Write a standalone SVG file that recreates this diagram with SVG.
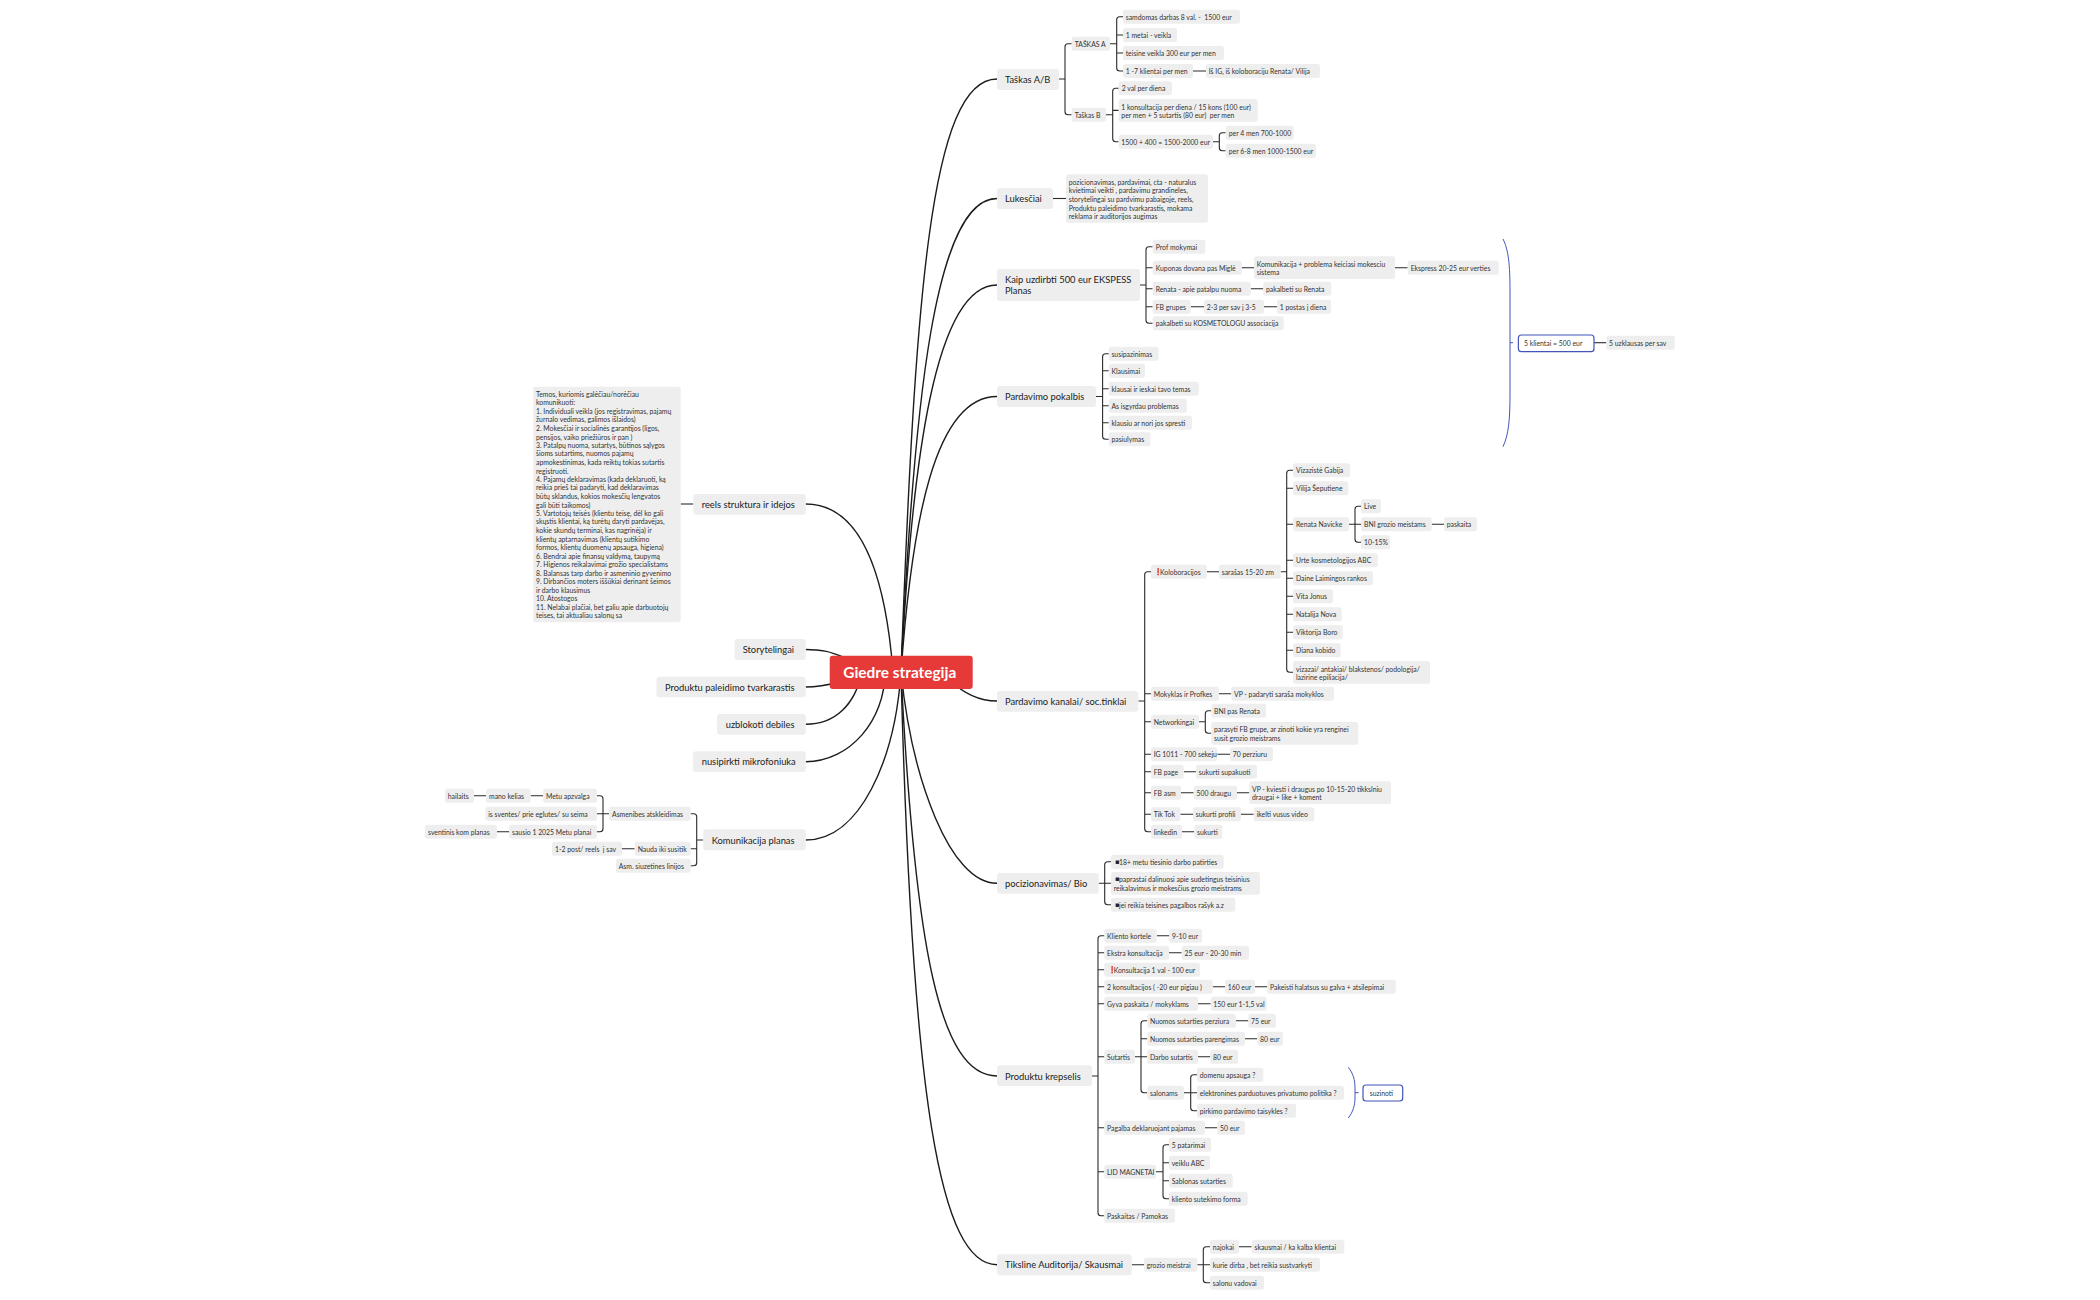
<svg xmlns="http://www.w3.org/2000/svg" width="2100" height="1300" viewBox="0 0 2100 1300">
<style>
text{font-family:"Lato","Noto Sans",sans-serif;dominant-baseline:central;white-space:pre;fill:#333}
.n rect{fill:#eee;rx:2.5px}
.n text{font-size:6.85px}
.m rect{fill:#eee;rx:3px}
.m text{font-size:9.35px;fill:#1c1c1c}
.r rect{fill:#e63a38;rx:3px}
.r text{font-size:15.4px;font-weight:700;fill:#fff}
.s rect{fill:#fff;stroke:#4355b9;stroke-width:1.2;rx:3px}
.s text{font-size:6.85px}
.n .ex{fill:#e3222a;font-family:"DejaVu Sans",sans-serif;font-size:6.6px;stroke:#e3222a;stroke-width:.3}
.sq{fill:#222;font-family:"DejaVu Sans",sans-serif}
#connectors path{fill:none;stroke:#2a2a2a;stroke-width:1.1}
#connectors .c{stroke:#1c1c1c;stroke-width:1.4}
#connectors .b{stroke:#4355b9;stroke-width:1}
</style>
<rect width="2100" height="1300" fill="#fff"/>
<g id="connectors">
<path class="c" d="M901 672C915 300 930 79 997 79"/>
<path class="c" d="M901 672C914 400 935 198.500 997 198.500"/>
<path class="c" d="M901 672C912 460 935 285 997 285"/>
<path class="c" d="M901 672C912 520 935 396.500 997 396.500"/>
<path class="c" d="M950 680C965 695 980 701 997 701"/>
<path class="c" d="M901 672C912 780 950 883.300 997 883.300"/>
<path class="c" d="M901 672C915 950 940 1076 997 1076"/>
<path class="c" d="M901 672C912 1100 940 1264.700 997 1264.700"/>
<path class="c" d="M893 672C885 570 860 504 805.700 504"/>
<path class="c" d="M845 658C830 651 820 649.500 805.700 649.500"/>
<path class="c" d="M840 682Q820 687 805.700 687"/>
<path class="c" d="M862 672C855 705 835 724.300 805.700 724.300"/>
<path class="c" d="M885 672C885 720 850 761.700 805.700 761.700"/>
<path class="c" d="M901 672C895 760 860 840 805.700 840"/>
<path d="M1059 79H1065M1071.700 43.700H1068Q1065 43.700 1065 46.700V111.700Q1065 114.700 1068 114.700H1071.700"/>
<path d="M1110 43.700H1116.700M1123 16.700H1119.700Q1116.700 16.700 1116.700 19.700V68Q1116.700 71 1119.700 71H1123M1116.700 35H1123M1116.700 53H1123M1193 71H1206"/>
<path d="M1106 114.700H1112.700M1118.700 88.300H1115.700Q1112.700 88.300 1112.700 91.300V138.700Q1112.700 141.700 1115.700 141.700H1118.700M1112.700 110.400H1118.700"/>
<path d="M1213 141.700H1219.300M1225.700 132.700H1222.300Q1219.300 132.700 1219.300 135.700V147.700Q1219.300 150.700 1222.300 150.700H1225.700"/>
<path d="M1053 198.500H1066"/>
<path d="M1140 285H1146M1152.700 246.700H1149Q1146 246.700 1146 249.700V320.300Q1146 323.300 1149 323.300H1152.700M1146 267.700H1152.700M1146 288.700H1152.700M1146 306.700H1152.700M1241.700 267.700H1254M1395 267.700H1407.700M1250.700 288.700H1263.300M1190.700 306.700H1204M1264 306.700H1277"/>
<path d="M1095.900 396.500H1102.600M1108.800 353.700H1105.600Q1102.600 353.700 1102.600 356.700V436.300Q1102.600 439.300 1105.600 439.300H1108.800M1102.600 370.700H1108.800M1102.600 388.700H1108.800M1102.600 405.700H1108.800M1102.600 422.700H1108.800"/>
<path d="M1138.300 701H1144.700M1151 571.700H1147.700Q1144.700 571.700 1144.700 574.700V828.700Q1144.700 831.700 1147.700 831.700H1151M1144.700 693.700H1151M1144.700 721.700H1151M1144.700 754.300H1151M1144.700 771.700H1151M1144.700 792.700H1151M1144.700 814.300H1151"/>
<path d="M1206.700 571.700H1219M1280.700 571.700H1286.700M1293 470.300H1289.700Q1286.700 470.300 1286.700 473.300V669.300Q1286.700 672.300 1289.700 672.300H1293M1286.700 488.300H1293M1286.700 524.300H1293M1286.700 560.300H1293M1286.700 578.300H1293M1286.700 596.300H1293M1286.700 614.300H1293M1286.700 632.300H1293M1286.700 650.300H1293"/>
<path d="M1349 524.300H1361M1361 506.300H1358Q1355 506.300 1355 509.300V539.300Q1355 542.300 1358 542.300H1361M1431.700 524.300H1444"/>
<path d="M1219 693.700H1231.300M1199 721.700H1205.300M1211.300 710.700H1208.300Q1205.300 710.700 1205.300 713.700V730.300Q1205.300 733.300 1208.300 733.300H1211.300M1217.300 754.300H1230M1183.700 771.700H1196M1181 792.700H1193.700M1237 792.700H1249.300M1180.300 814.300H1193M1241 814.300H1253.700M1182 831.700H1194.300"/>
<path d="M1098.700 883.300H1111M1111 861.700H1107.700Q1104.700 861.700 1104.700 864.700V901.700Q1104.700 904.700 1107.700 904.700H1111"/>
<path d="M1092 1076H1098M1104.300 935.700H1101Q1098 935.700 1098 938.700V1212.700Q1098 1215.700 1101 1215.700H1104.300M1098 952.700H1104.300M1098 969.700H1104.300M1098 986.700H1104.300M1098 1003.700H1104.300M1098 1056.700H1104.300M1098 1127.700H1104.300M1098 1171.700H1104.300"/>
<path d="M1156.700 935.700H1169.300M1169 952.700H1181.700M1212.700 986.700H1225M1255 986.700H1267.300M1198 1003.700H1210.700M1236 1020.700H1248.300M1245 1038.700H1257.300M1198 1056.700H1210.300M1205 1127.700H1217.300"/>
<path d="M1135 1056.700H1147.300M1147.300 1020.700H1144Q1141 1020.700 1141 1023.700V1089.700Q1141 1092.700 1144 1092.700H1147.300M1141 1038.700H1147.300"/>
<path d="M1184 1092.700H1197M1197 1074.700H1193.700Q1190.700 1074.700 1190.700 1077.700V1107.700Q1190.700 1110.700 1193.700 1110.700H1197"/>
<path d="M1156 1171.700H1163M1169 1144.700H1166Q1163 1144.700 1163 1147.700V1195.700Q1163 1198.700 1166 1198.700H1169M1163 1162.700H1169M1163 1180.700H1169"/>
<path d="M1131.700 1264.700H1144M1197.300 1264.700H1210M1210 1246.700H1206.300Q1203.300 1246.700 1203.300 1249.700V1279.700Q1203.300 1282.700 1206.300 1282.700H1210M1239 1246.700H1251.700"/>
<path d="M693.300 504H680.700"/>
<path d="M703.200 840H696.700M690.600 813.700H693.700Q696.700 813.700 696.700 816.700V862.700Q696.700 865.700 693.700 865.700H690.600M696.700 848.700H690.600"/>
<path d="M609 813.700H596.800M596.800 795.700H600Q603 795.700 603 798.700V828.700Q603 831.700 600 831.700H596.800M543.200 795.700H530.600M486.200 795.700H474M509.200 831.700H497M634.700 848.700H622"/>
<path class="b" d="M1503 239C1508.500 250 1510 265 1510 290V395C1510 420 1508.500 435 1503 446.700M1510 342.700H1513"/>
<path d="M1594 342.700H1606.400"/>
<path class="b" d="M1348.300 1067.300C1353 1073 1355 1080 1355 1088V1098C1355 1105 1353 1112 1348.300 1118M1355 1092.700H1358.700"/>
</g>
<g id="root" class="r"><rect x="829.700" y="655.700" width="143" height="33.300"/><text x="843.300" y="672">Giedre strategija</text></g>
<g id="t1" class="m"><rect x="997" y="69" width="62" height="21"/><text x="1005" y="79">Taškas A/B</text></g>
<g id="t2" class="m"><rect x="997" y="188" width="56" height="21"/><text x="1005" y="198.500">Lukesčiai</text></g>
<g id="t3" class="m"><rect x="997" y="269" width="143" height="32"/><text x="1005"><tspan x="1005" y="279">Kaip uzdirbti 500 eur EKSPESS</tspan><tspan x="1005" y="290">Planas</tspan></text></g>
<g id="t4" class="m"><rect x="997" y="386" width="99" height="21"/><text x="1005" y="396.500">Pardavimo pokalbis</text></g>
<g id="t5" class="m"><rect x="997" y="691" width="141.300" height="20.700"/><text x="1005" y="701">Pardavimo kanalai/ soc.tinklai</text></g>
<g id="t6" class="m"><rect x="997" y="873" width="101.700" height="20.700"/><text x="1005" y="883.300">pocizionavimas/ Bio</text></g>
<g id="t7" class="m"><rect x="997" y="1065.300" width="95" height="20.700"/><text x="1005" y="1076">Produktu krepselis</text></g>
<g id="t8" class="m"><rect x="997" y="1254.300" width="134.700" height="21"/><text x="1005" y="1264.700">Tiksline Auditorija/ Skausmai</text></g>
<g id="t9" class="m"><rect x="693.300" y="494" width="112.400" height="20.700"/><text x="701.700" y="504">reels struktura ir idejos</text></g>
<g id="t10" class="m"><rect x="734.600" y="639" width="71.100" height="21"/><text x="742.700" y="649.500">Storytelingai</text></g>
<g id="t11" class="m"><rect x="656.500" y="676.700" width="149.200" height="20.600"/><text x="665" y="687">Produktu paleidimo tvarkarastis</text></g>
<g id="t12" class="m"><rect x="717" y="714" width="88.700" height="20.700"/><text x="725.700" y="724.300">uzblokoti debiles</text></g>
<g id="t13" class="m"><rect x="692.900" y="751.300" width="112.800" height="20.700"/><text x="701.700" y="761.700">nusipirkti mikrofoniuka</text></g>
<g id="t14" class="m"><rect x="703.200" y="829.300" width="102.500" height="21"/><text x="711.700" y="840">Komunikacija planas</text></g>
<g id="a1" class="n"><rect x="1071.700" y="36.700" width="38.300" height="14"/><text x="1074.700" y="43.700">TAŠKAS A</text></g>
<g id="a2" class="n"><rect x="1123" y="9.700" width="117" height="14"/><text x="1125.700" y="16.700">samdomas darbas 8 val. -  1500 eur</text></g>
<g id="a3" class="n"><rect x="1123" y="28" width="54" height="14"/><text x="1125.700" y="35">1 metai - veikla</text></g>
<g id="a4" class="n"><rect x="1123" y="46" width="101" height="14"/><text x="1125.700" y="53">teisine veikla 300 eur per men</text></g>
<g id="a5" class="n"><rect x="1123" y="64" width="70" height="14"/><text x="1125.700" y="71">1 -7 klientai per men</text></g>
<g id="a6" class="n"><rect x="1206" y="64" width="114" height="14"/><text x="1208.700" y="71">Iš IG, iš koloboraciju Renata/ Vilija</text></g>
<g id="b1" class="n"><rect x="1071.700" y="107.700" width="34.300" height="14"/><text x="1074.700" y="114.700">Taškas B</text></g>
<g id="b2" class="n"><rect x="1118.700" y="81.300" width="53.300" height="14"/><text x="1121.700" y="88.300">2 val per diena</text></g>
<g id="b3" class="n"><rect x="1118.700" y="99" width="139" height="22.700"/><text><tspan x="1121.300" y="106.500">1 konsultacija per diena / 15 kons (100 eur)</tspan><tspan x="1121.300" y="114.700">per men + 5 sutartis (80 eur)  per men</tspan></text></g>
<g id="b4" class="n"><rect x="1118.700" y="134.700" width="94.300" height="14"/><text x="1121.300" y="141.700">1500 + 400 = 1500-2000 eur</text></g>
<g id="b5" class="n"><rect x="1225.700" y="125.700" width="68" height="14"/><text x="1228.700" y="132.700">per 4 men 700-1000</text></g>
<g id="b6" class="n"><rect x="1225.700" y="143.700" width="90.300" height="14"/><text x="1228.700" y="150.700">per 6-8 men 1000-1500 eur</text></g>
<g id="c1" class="n"><rect x="1066" y="174.300" width="142" height="48.400"/><text><tspan x="1068.700" y="181.700">pozicionavimas, pardavimai, cta - naturalus</tspan><tspan x="1068.700" y="190">kvietimai veikti , pardavimu grandineles,</tspan><tspan x="1068.700" y="198.700">storytelingai su pardvimu pabaigoje, reels,</tspan><tspan x="1068.700" y="207.700">Produktu paleidimo tvarkarastis, mokama</tspan><tspan x="1068.700" y="215.700">reklama ir auditorijos augimas</tspan></text></g>
<g id="d1" class="n"><rect x="1152.700" y="239.700" width="52.600" height="14"/><text x="1155.700" y="246.700">Prof mokymai</text></g>
<g id="d2" class="n"><rect x="1152.700" y="260.700" width="89" height="14"/><text x="1155.700" y="267.700">Kuponas dovana pas Miglė</text></g>
<g id="d3" class="n"><rect x="1254" y="256.300" width="141" height="22.700"/><text><tspan x="1256.700" y="263.700">Komunikacija + problema keiciasi mokesciu</tspan><tspan x="1256.700" y="271.700">sistema</tspan></text></g>
<g id="d4" class="n"><rect x="1407.700" y="260.700" width="91" height="14"/><text x="1410.700" y="267.700">Ekspress 20-25 eur verties</text></g>
<g id="d5" class="n"><rect x="1152.700" y="281.700" width="98" height="14"/><text x="1155.700" y="288.700">Renata - apie patalpu nuoma</text></g>
<g id="d6" class="n"><rect x="1263.300" y="281.700" width="68" height="14"/><text x="1266" y="288.700">pakalbeti su Renata</text></g>
<g id="d7" class="n"><rect x="1152.700" y="299.700" width="38" height="14"/><text x="1155.700" y="306.700">FB grupes</text></g>
<g id="d8" class="n"><rect x="1204" y="299.700" width="60" height="14"/><text x="1206.700" y="306.700">2-3 per sav į 3-5</text></g>
<g id="d9" class="n"><rect x="1277" y="299.700" width="54" height="14"/><text x="1279.700" y="306.700">1 postas į diena</text></g>
<g id="d10" class="n"><rect x="1152.700" y="316.300" width="131" height="14"/><text x="1155.700" y="323.300">pakalbeti su KOSMETOLOGU associacija</text></g>
<g id="e1" class="s"><rect x="1518.400" y="335" width="75.600" height="16.700"/><text x="1524" y="342.700">5 klientai = 500 eur</text></g>
<g id="e2" class="n"><rect x="1606.400" y="335.700" width="68.400" height="14"/><text x="1609" y="342.700">5 uzklausas per sav</text></g>
<g id="f1" class="n"><rect x="1108.800" y="346.700" width="49.800" height="14"/><text x="1111.400" y="353.700">susipazinimas</text></g>
<g id="f2" class="n"><rect x="1108.800" y="363.700" width="36.200" height="14"/><text x="1111.400" y="370.700">Klausimai</text></g>
<g id="f3" class="n"><rect x="1108.800" y="381.700" width="90" height="14"/><text x="1111.400" y="388.700">klausai ir ieskai tavo temas</text></g>
<g id="f4" class="n"><rect x="1108.800" y="398.700" width="78" height="14"/><text x="1111.400" y="405.700">As isgyrdau problemas</text></g>
<g id="f5" class="n"><rect x="1108.800" y="415.700" width="83.200" height="14"/><text x="1111.400" y="422.700">klausiu ar nori jos spresti</text></g>
<g id="f6" class="n"><rect x="1108.800" y="432.300" width="41.600" height="14"/><text x="1111.400" y="439.300">pasiulymas</text></g>
<g id="g1" class="n"><rect x="1151" y="564.700" width="55.700" height="14"/><text y="571.700"><tspan class="ex" x="1154">❗</tspan><tspan x="1160">Koloboracijos</tspan></text></g>
<g id="g2" class="n"><rect x="1219" y="564.700" width="61.700" height="14"/><text x="1221.700" y="571.700">sarašas 15-20 zm</text></g>
<g id="g3" class="n"><rect x="1293" y="463.300" width="57" height="14"/><text x="1296" y="470.300">Vizazistė Gabija</text></g>
<g id="g4" class="n"><rect x="1293" y="481.300" width="55.300" height="14"/><text x="1296" y="488.300">Vilija Šeputiene</text></g>
<g id="g5" class="n"><rect x="1293" y="517.300" width="56" height="14"/><text x="1296" y="524.300">Renata Navicke</text></g>
<g id="g6" class="n"><rect x="1361" y="499.300" width="20" height="14"/><text x="1364" y="506.300">Live</text></g>
<g id="g7" class="n"><rect x="1361" y="517.300" width="70.700" height="14"/><text x="1364" y="524.300">BNI grozio meistams</text></g>
<g id="g8" class="n"><rect x="1444" y="517.300" width="33" height="14"/><text x="1446.700" y="524.300">paskaita</text></g>
<g id="g9" class="n"><rect x="1361" y="535.300" width="29" height="14"/><text x="1364" y="542.300">10-15%</text></g>
<g id="g10" class="n"><rect x="1293" y="553.300" width="84.700" height="14"/><text x="1296" y="560.300">Urte kosmetologijos ABC</text></g>
<g id="g11" class="n"><rect x="1293" y="571.300" width="80" height="14"/><text x="1296" y="578.300">Daine Laimingos rankos</text></g>
<g id="g12" class="n"><rect x="1293" y="589.300" width="40" height="14"/><text x="1296" y="596.300">Vita Jonus</text></g>
<g id="g13" class="n"><rect x="1293" y="607.300" width="48.700" height="14"/><text x="1296" y="614.300">Natalija Nova</text></g>
<g id="g14" class="n"><rect x="1293" y="625.300" width="49.700" height="14"/><text x="1296" y="632.300">Viktorija Boro</text></g>
<g id="g15" class="n"><rect x="1293" y="643.300" width="47.700" height="14"/><text x="1296" y="650.300">Diana kobido</text></g>
<g id="g16" class="n"><rect x="1293" y="661" width="137" height="22.700"/><text><tspan x="1296" y="669">vizazai/ antakiai/ blakstenos/ podologija/</tspan><tspan x="1296" y="676.700">lazirine epiliacija/</tspan></text></g>
<g id="h1" class="n"><rect x="1151" y="686.700" width="68" height="14"/><text x="1153.700" y="693.700">Mokyklas ir Profkes</text></g>
<g id="h2" class="n"><rect x="1231.300" y="686.700" width="102.700" height="14"/><text x="1234" y="693.700">VP - padaryti saraša mokyklos</text></g>
<g id="h3" class="n"><rect x="1151" y="714.700" width="48" height="14"/><text x="1153.700" y="721.700">Networkingai</text></g>
<g id="h4" class="n"><rect x="1211.300" y="703.700" width="54.700" height="14"/><text x="1214" y="710.700">BNI pas Renata</text></g>
<g id="h5" class="n"><rect x="1211.300" y="722" width="147" height="22.700"/><text><tspan x="1214" y="728.700">parasyti FB grupe, ar zinoti kokie yra renginei</tspan><tspan x="1214" y="737.700">susit grozio meistrams</tspan></text></g>
<g id="h6" class="n"><rect x="1151" y="747.300" width="66.300" height="14"/><text x="1153.700" y="754.300">IG 1011 - 700 sekeju</text></g>
<g id="h7" class="n"><rect x="1230" y="747.300" width="43" height="14"/><text x="1232.700" y="754.300">70 perziuru</text></g>
<g id="h8" class="n"><rect x="1151" y="764.700" width="32.700" height="14"/><text x="1153.700" y="771.700">FB page</text></g>
<g id="h9" class="n"><rect x="1196" y="764.700" width="61" height="14"/><text x="1198.700" y="771.700">sukurti supakuoti</text></g>
<g id="h10" class="n"><rect x="1151" y="785.700" width="30" height="14"/><text x="1153.700" y="792.700">FB asm</text></g>
<g id="h11" class="n"><rect x="1193.700" y="785.700" width="43.300" height="14"/><text x="1196.500" y="792.700">500 draugu</text></g>
<g id="h12" class="n"><rect x="1249.300" y="781.300" width="141.700" height="22.700"/><text><tspan x="1252" y="788.700">VP - kviesti i draugus po 10-15-20 tikkslniu</tspan><tspan x="1252" y="797.300">draugai + like + koment</tspan></text></g>
<g id="h13" class="n"><rect x="1151" y="807.300" width="29.300" height="14"/><text x="1153.700" y="814.300">Tik Tok</text></g>
<g id="h14" class="n"><rect x="1193" y="807.300" width="48" height="14"/><text x="1195.700" y="814.300">sukurti profili</text></g>
<g id="h15" class="n"><rect x="1253.700" y="807.300" width="60.600" height="14"/><text x="1256.700" y="814.300">ikelti vusus video</text></g>
<g id="h16" class="n"><rect x="1151" y="824.700" width="31" height="14"/><text x="1153.700" y="831.700">linkedin</text></g>
<g id="h17" class="n"><rect x="1194.300" y="824.700" width="28" height="14"/><text x="1197" y="831.700">sukurti</text></g>
<g id="i1" class="n"><rect x="1111" y="854.700" width="112.700" height="14"/><text y="861.700"><tspan class="sq" x="1115">▪</tspan><tspan x="1119">18+ metu tiesinio darbo patirties</tspan></text></g>
<g id="i2" class="n"><rect x="1111" y="872" width="149" height="22.700"/><text><tspan class="sq" x="1115" y="878.700">▪</tspan><tspan x="1119" y="878.700">paprastai dalinuosi apie sudetingus teisinius</tspan><tspan x="1113.700" y="887.700">reikalavimus ir mokesčius grozio meistrams</tspan></text></g>
<g id="i3" class="n"><rect x="1111" y="897.700" width="124.300" height="14"/><text y="904.700"><tspan class="sq" x="1115">▪</tspan><tspan x="1119">jei reikia teisines pagalbos rašyk a.z</tspan></text></g>
<g id="j1" class="n"><rect x="1104.300" y="928.700" width="52.400" height="14"/><text x="1107" y="935.700">Kliento kortele</text></g>
<g id="j2" class="n"><rect x="1169.300" y="928.700" width="32.700" height="14"/><text x="1172" y="935.700">9-10 eur</text></g>
<g id="j3" class="n"><rect x="1104.300" y="945.700" width="64.700" height="14"/><text x="1107" y="952.700">Ekstra konsultacija</text></g>
<g id="j4" class="n"><rect x="1181.700" y="945.700" width="67.300" height="14"/><text x="1184.500" y="952.700">25 eur - 20-30 min</text></g>
<g id="j5" class="n"><rect x="1104.300" y="962.700" width="95.700" height="14"/><text y="969.700"><tspan class="ex" x="1107.700">❗</tspan><tspan x="1113.700">Konsultacija 1 val - 100 eur</tspan></text></g>
<g id="j6" class="n"><rect x="1104.300" y="979.700" width="108.400" height="14"/><text x="1107" y="986.700">2 konsultacijos ( -20 eur pigiau )</text></g>
<g id="j7" class="n"><rect x="1225" y="979.700" width="30" height="14"/><text x="1227.700" y="986.700">160 eur</text></g>
<g id="j8" class="n"><rect x="1267.300" y="979.700" width="128.400" height="14"/><text x="1270" y="986.700">Pakeisti halatsus su galva + atsilepimai</text></g>
<g id="j9" class="n"><rect x="1104.300" y="996.700" width="93.700" height="14"/><text x="1107" y="1003.700">Gyva paskaita / mokyklams</text></g>
<g id="j10" class="n"><rect x="1210.700" y="996.700" width="56" height="14"/><text x="1213.300" y="1003.700">150 eur 1-1,5 val</text></g>
<g id="j11" class="n"><rect x="1104.300" y="1049.700" width="30.700" height="14"/><text x="1107" y="1056.700">Sutartis</text></g>
<g id="j12" class="n"><rect x="1147.300" y="1013.700" width="88.700" height="14"/><text x="1150" y="1020.700">Nuomos sutarties perziura</text></g>
<g id="j13" class="n"><rect x="1248.300" y="1013.700" width="27.700" height="14"/><text x="1251" y="1020.700">75 eur</text></g>
<g id="j14" class="n"><rect x="1147.300" y="1031.700" width="97.700" height="14"/><text x="1150" y="1038.700">Nuomos sutarties parengimas</text></g>
<g id="j15" class="n"><rect x="1257.300" y="1031.700" width="25.700" height="14"/><text x="1260" y="1038.700">80 eur</text></g>
<g id="j16" class="n"><rect x="1147.300" y="1049.700" width="50.700" height="14"/><text x="1150" y="1056.700">Darbo sutartis</text></g>
<g id="j17" class="n"><rect x="1210.300" y="1049.700" width="27.700" height="14"/><text x="1213" y="1056.700">80 eur</text></g>
<g id="j18" class="n"><rect x="1147.300" y="1085.700" width="36.700" height="14"/><text x="1150" y="1092.700">salonams</text></g>
<g id="j19" class="n"><rect x="1197" y="1067.700" width="66.300" height="14"/><text x="1199.700" y="1074.700">domenu apsauga ?</text></g>
<g id="j20" class="n"><rect x="1197" y="1085.700" width="147" height="14"/><text x="1199.700" y="1092.700">elektronines parduotuves privatumo politika ?</text></g>
<g id="j21" class="n"><rect x="1197" y="1103.700" width="99" height="14"/><text x="1199.700" y="1110.700">pirkimo pardavimo taisykles ?</text></g>
<g id="j22" class="s"><rect x="1363" y="1085" width="39.700" height="16"/><text x="1369.700" y="1092.700">suzinoti</text></g>
<g id="j23" class="n"><rect x="1104.300" y="1120.700" width="100.700" height="14"/><text x="1107" y="1127.700">Pagalba deklaruojant pajamas</text></g>
<g id="j24" class="n"><rect x="1217.300" y="1120.700" width="27.700" height="14"/><text x="1220" y="1127.700">50 eur</text></g>
<g id="j25" class="n"><rect x="1104.300" y="1164.700" width="51.700" height="14"/><text x="1107" y="1171.700">LID MAGNETAI</text></g>
<g id="j26" class="n"><rect x="1169" y="1137.700" width="42" height="14"/><text x="1171.700" y="1144.700">5 patarimai</text></g>
<g id="j27" class="n"><rect x="1169" y="1155.700" width="41" height="14"/><text x="1171.700" y="1162.700">veiklu ABC</text></g>
<g id="j28" class="n"><rect x="1169" y="1173.700" width="63.700" height="14"/><text x="1171.700" y="1180.700">Sablonas sutarties</text></g>
<g id="j29" class="n"><rect x="1169" y="1191.700" width="78.700" height="14"/><text x="1171.700" y="1198.700">kliento sutekimo forma</text></g>
<g id="j30" class="n"><rect x="1104.300" y="1208.700" width="70.700" height="14"/><text x="1107" y="1215.700">Paskaitas / Pamokas</text></g>
<g id="k1" class="n"><rect x="1144" y="1257.700" width="53.300" height="14"/><text x="1146.700" y="1264.700">grozio meistrai</text></g>
<g id="k2" class="n"><rect x="1210" y="1239.700" width="29" height="14"/><text x="1212.700" y="1246.700">najokai</text></g>
<g id="k3" class="n"><rect x="1251.700" y="1239.700" width="92.600" height="14"/><text x="1254.500" y="1246.700">skausmai / ka kalba klientai</text></g>
<g id="k4" class="n"><rect x="1210" y="1257.700" width="110" height="14"/><text x="1212.700" y="1264.700">kurie dirba , bet reikia sustvarkyti</text></g>
<g id="k5" class="n"><rect x="1210" y="1275.700" width="54" height="14"/><text x="1212.700" y="1282.700">salonu vadovai</text></g>
<g id="l1" class="n"><rect x="533.300" y="386.700" width="147.400" height="235.600"/><text><tspan x="536" y="393.700">Temos, kuriomis galėčiau/norėčiau</tspan><tspan x="536" y="402">komunikuoti:</tspan><tspan x="536" y="410.700">1. Individuali veikla (jos registravimas, pajamų</tspan><tspan x="536" y="419.300">žurnalo vedimas, galimos išlaidos)</tspan><tspan x="536" y="428">2. Mokesčiai ir socialinės garantijos (ligos,</tspan><tspan x="536" y="436.700">pensijos, vaiko priežiūros ir pan )</tspan><tspan x="536" y="444.700">3. Patalpų nuoma, sutartys, būtinos sąlygos</tspan><tspan x="536" y="453.300">šioms sutartims, nuomos pajamų</tspan><tspan x="536" y="462">apmokestinimas, kada reiktų tokias sutartis</tspan><tspan x="536" y="470.700">registruoti.</tspan><tspan x="536" y="478.700">4. Pajamų deklaravimas (kada deklaruoti, ką</tspan><tspan x="536" y="487.300">reikia prieš tai padaryti, kad deklaravimas</tspan><tspan x="536" y="496">būtų sklandus, kokios mokesčių lengvatos</tspan><tspan x="536" y="504.700">gali būti taikomos)</tspan><tspan x="536" y="512.700">5. Vartotojų teisės (klientu teisę, dėl ko gali</tspan><tspan x="536" y="521.300">skųstis klientai, ką turėtų daryti pardavėjas,</tspan><tspan x="536" y="530">kokie skundų terminai, kas nagrinėja) ir</tspan><tspan x="536" y="538.700">klientų aptarnavimas (klientų sutikimo</tspan><tspan x="536" y="546.700">formos, klientų duomenų apsauga, higiena)</tspan><tspan x="536" y="555.700">6. Bendrai apie finansų valdymą, taupymą</tspan><tspan x="536" y="564.300">7. Higienos reikalavimai grožio specialistams</tspan><tspan x="536" y="572.700">8. Balansas tarp darbo ir asmeninio gyvenimo</tspan><tspan x="536" y="581.300">9. Dirbančios moters iššūkiai derinant šeimos</tspan><tspan x="536" y="589.700">ir darbo klausimus</tspan><tspan x="536" y="598.300">10. Atostogos</tspan><tspan x="536" y="607">11. Nelabai plačiai, bet galiu apie darbuotojų</tspan><tspan x="536" y="615.300">teises, tai aktualiau salonų sa</tspan></text></g>
<g id="o1" class="n"><rect x="609" y="806.700" width="81.600" height="14"/><text x="612" y="813.700">Asmenibes atskleidimas</text></g>
<g id="o2" class="n"><rect x="543.200" y="788.700" width="53.600" height="14"/><text x="546" y="795.700">Metu apzvalga</text></g>
<g id="o3" class="n"><rect x="486.200" y="788.700" width="44.400" height="14"/><text x="489" y="795.700">mano kelias</text></g>
<g id="o4" class="n"><rect x="444.900" y="788.700" width="29.100" height="14"/><text x="447.700" y="795.700">hailaits</text></g>
<g id="o5" class="n"><rect x="485.400" y="806.700" width="111.400" height="14"/><text x="488.200" y="813.700">is sventes/ prie eglutes/ su seima</text></g>
<g id="o6" class="n"><rect x="509.200" y="824.700" width="87.600" height="14"/><text x="512" y="831.700">sausio 1 2025 Metu planai</text></g>
<g id="o7" class="n"><rect x="425" y="824.700" width="72" height="14"/><text x="428" y="831.700">sventinis kom planas</text></g>
<g id="o8" class="n"><rect x="634.700" y="841.700" width="55.900" height="14"/><text x="637.700" y="848.700">Nauda iki susitik</text></g>
<g id="o9" class="n"><rect x="552" y="841.700" width="70" height="14"/><text x="555" y="848.700">1-2 post/ reels  į sav</text></g>
<g id="o10" class="n"><rect x="616" y="858.700" width="74.600" height="14"/><text x="618.700" y="865.700">Asm. siuzetines linijos</text></g>
</svg>
